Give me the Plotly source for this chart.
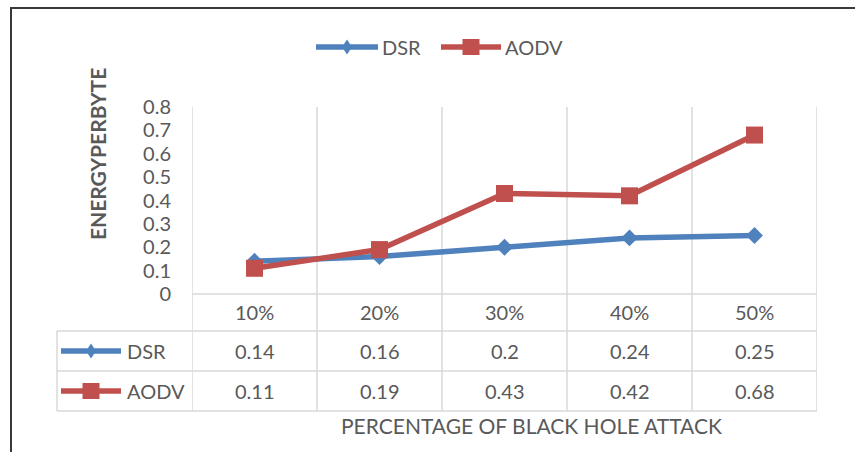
import plotly.graph_objects as go

categories = ["10%", "20%", "30%", "40%", "50%"]
dsr = [0.14, 0.16, 0.2, 0.24, 0.25]
aodv = [0.11, 0.19, 0.43, 0.42, 0.68]
series_names = ["DSR", "AODV"]
y_title = "ENERGYPERBYTE"
x_title = "PERCENTAGE OF BLACK HOLE ATTACK"

W, H = 855, 452
BLUE = "#4F81BD"
RED = "#C0504D"
GRID = "#D9D9D9"
TXT = "#595959"
FONT = "Lato, 'Open Sans', sans-serif"
FS = 20
LW = 5.5

def px(x):
    return x / W

def py(y):
    return 1 - y / H

L, R, T, B = 192, 817, 107, 294
table_rows = [331, 371, 411]
table_left = 57

fig = go.Figure()
fig.add_trace(go.Scatter(x=categories, y=dsr, name=series_names[0], mode="lines+markers",
                         line=dict(color=BLUE, width=LW),
                         marker=dict(symbol="diamond", size=13, color=BLUE)))
fig.add_trace(go.Scatter(x=categories, y=aodv, name=series_names[1], mode="lines+markers",
                         line=dict(color=RED, width=LW),
                         marker=dict(symbol="square", size=17, color=RED)))

shapes = []
shapes.append(dict(type="rect", xref="paper", yref="paper", x0=px(11), x1=px(900),
                   y0=py(8), y1=py(500), line=dict(color="#3a3a3a", width=2)))
for i in range(len(categories) + 1):
    shapes.append(dict(type="line", xref="x", yref="paper", x0=i - 0.5, x1=i - 0.5,
                       y0=py(T), y1=py(table_rows[-1]), line=dict(color=GRID, width=1.5),
                       layer="below"))
shapes.append(dict(type="line", xref="paper", yref="paper", x0=px(table_left), x1=px(table_left),
                   y0=py(table_rows[0]), y1=py(table_rows[-1]), line=dict(color=GRID, width=1.5)))
shapes.append(dict(type="line", xref="paper", yref="paper", x0=px(L), x1=px(R),
                   y0=py(B), y1=py(B), line=dict(color=GRID, width=1.5)))
for yy in table_rows:
    shapes.append(dict(type="line", xref="paper", yref="paper", x0=px(table_left), x1=px(R),
                       y0=py(yy), y1=py(yy), line=dict(color=GRID, width=1.5)))

def key(x0, x1, y, color, kind, w, h):
    out = [dict(type="line", xref="paper", yref="paper", x0=px(x0), x1=px(x1),
                y0=py(y), y1=py(y), line=dict(color=color, width=LW))]
    cx = (x0 + x1) / 2
    if kind == "diamond":
        path = (f"M {px(cx - w/2)} {py(y)} L {px(cx)} {py(y - h/2)} "
                f"L {px(cx + w/2)} {py(y)} L {px(cx)} {py(y + h/2)} Z")
        out.append(dict(type="path", xref="paper", yref="paper", path=path,
                        fillcolor=color, line=dict(color=color, width=0)))
    else:
        out.append(dict(type="rect", xref="paper", yref="paper", x0=px(cx - w/2), x1=px(cx + w/2),
                        y0=py(y - h/2), y1=py(y + h/2), fillcolor=color,
                        line=dict(color=color, width=0)))
    return out

shapes += key(316, 378, 47, BLUE, "diamond", 10, 15)
shapes += key(441, 501, 47, RED, "square", 17, 16)
row_centers = [351, 391]
shapes += key(61, 121, row_centers[0], BLUE, "diamond", 10, 15)
shapes += key(61, 121, row_centers[1], RED, "square", 17, 16)

ann = []
def text(x, y, s, size=FS, xanchor="center", bold=False, angle=0, xref="paper", yref="paper"):
    ann.append(dict(x=x, y=y, xref=xref, yref=yref, text=f"<b>{s}</b>" if bold else s,
                    showarrow=False, xanchor=xanchor, yanchor="middle", textangle=angle,
                    font=dict(family=FONT, size=size, color=TXT)))

text(px(380), py(47), series_names[0], xanchor="left")
text(px(503), py(47), series_names[1], xanchor="left")
text(px(125), py(row_centers[0]), series_names[0], xanchor="left")
text(px(125), py(row_centers[1]), series_names[1], xanchor="left")
for i, c in enumerate(categories):
    text(c, py(312), c, xref="x")
    text(c, py(row_centers[0]), str(dsr[i]), xref="x")
    text(c, py(row_centers[1]), str(aodv[i]), xref="x")
text(px(531), py(425), x_title, size=21)
text(px(97), py(154), y_title, size=21, bold=True, angle=-90)

fig.update_layout(
    width=W, height=H, margin=dict(l=0, r=0, t=0, b=0, autoexpand=False),
    paper_bgcolor="white", plot_bgcolor="white", showlegend=False,
    font=dict(family=FONT, size=FS, color=TXT),
    xaxis=dict(domain=[px(L), px(R)], range=[-0.5, len(categories) - 0.5], type="category",
               showgrid=False, showticklabels=False, zeroline=False, showline=False,
               automargin=False),
    yaxis=dict(domain=[py(B), py(T)], range=[0, 0.8], dtick=0.1, showgrid=False,
               zeroline=False, showline=False, ticklabelstandoff=20, automargin=False,
               tickfont=dict(family=FONT, size=FS, color=TXT)),
    shapes=shapes, annotations=ann,
)
fig.write_html(
    "out.html",
    config={"displayModeBar": False},
    post_script=("document.documentElement.style.margin='0';document.body.style.margin='0';"
                 "document.documentElement.style.overflow='hidden';document.body.style.overflow='hidden';"),
)
